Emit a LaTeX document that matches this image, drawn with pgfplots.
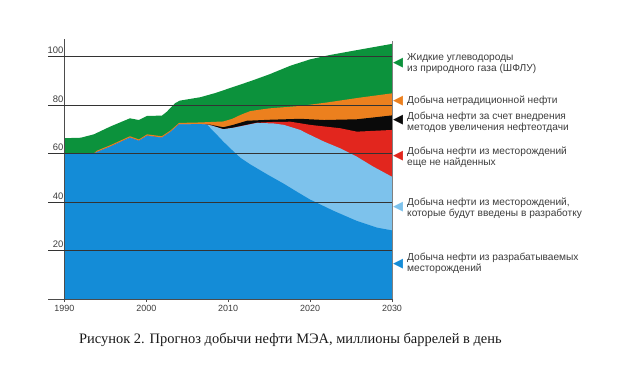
\documentclass[border=0pt]{standalone}
\usepackage{fontspec}
\setmainfont{Liberation Sans}
\newfontfamily\serifcap{Liberation Serif}
\newfontfamily\dejavu{DejaVu Sans}
\usepackage{pgfplots}
\pgfplotsset{compat=1.18}
\definecolor{cgreen}{RGB}{12,146,60}
\definecolor{corange}{RGB}{236,128,30}
\definecolor{cblack}{RGB}{10,10,10}
\definecolor{cred}{RGB}{226,38,30}
\definecolor{clight}{RGB}{125,194,236}
\definecolor{cdark}{RGB}{20,140,215}
\definecolor{ctext}{RGB}{60,60,60}

\pgfplotstableread{
x y
1990 66.3
1992 66.5
1993.6 67.9
1995.6 71.1
1998 74.5
1999.1 73.8
2000.1 75.5
2001.9 75.6
2002.5 77.2
2003.5 80.7
2004.1 81.8
2006.6 83.2
2008.5 85.0
2010.5 87.3
2012.7 89.8
2015 92.6
2017.6 96.2
2020 98.8
2022.4 100.6
2026 102.8
2030 105.2
}\ngl

\pgfplotstableread{
x y
1990 60.0
1993.6 60.1
1994 61.2
1995.6 63.4
1998 67.1
1999.1 65.8
2000.1 67.9
2001.9 67.1
2003 69.6
2004 72.6
2006.6 72.8
2009.4 73.2
2010.5 74.3
2011.5 75.9
2012.7 77.5
2015 78.6
2018.8 79.6
2022 81.0
2026 83.0
2030 84.8
}\unconv

\pgfplotstableread{
x y
1990 60.0
1993.6 60.0
1994 60.6
1995.6 62.8
1998 66.5
1999.1 65.2
2000.1 67.3
2001.9 66.5
2003 69.0
2004 72.0
2006.6 72.1
2007.8 71.9
2009.4 70.8
2010.6 71.8
2012.3 73.5
2015 73.9
2018.8 74.3
2021.7 73.8
2025.7 74.1
2030 75.7
}\eor

\pgfplotstableread{
x y
1990 60.0
1993.6 60.0
1994 60.6
1995.6 62.8
1998 66.5
1999.1 65.2
2000.1 67.3
2001.9 66.5
2003 69.0
2004 72.0
2006.6 72.1
2007.4 71.9
2008 71.5
2009.4 70.0
2010.6 70.6
2011.5 71.3
2013.5 72.7
2015.5 73.0
2017.6 73.1
2020 71.8
2023.7 70.4
2025.7 69.0
2030 69.7
}\yetfound

\pgfplotstableread{
x y
1990 60.0
1993.6 60.0
1994 60.6
1995.6 62.8
1998 66.5
1999.1 65.2
2000.1 67.3
2001.9 66.5
2003 69.0
2004 72.0
2006.6 72.1
2007.4 71.9
2008 71.5
2009.4 70.0
2010.6 70.6
2011.5 71.2
2013.5 72.6
2015.5 72.4
2016.8 71.8
2018.8 69.7
2019.6 68.3
2021.7 64.9
2023.7 62.1
2025.7 58.7
2027.7 54.6
2030 50.4
}\newdev

\pgfplotstableread{
x y
1990 60.0
1993.6 60.0
1994 60.6
1995.6 62.8
1998 66.5
1999.1 65.2
2000.1 67.3
2001.9 66.5
2003 69.0
2004 72.0
2006.6 72.1
2007.4 71.9
2008.4 68.5
2009.4 64.9
2010.6 61.0
2011.5 58.2
2012.7 55.5
2014.7 51.5
2016.8 47.5
2018.5 44.0
2020 41.0
2022.9 36.3
2025.7 32.2
2028.2 29.4
2030 28.3
}\existing

\begin{document}
\begin{tikzpicture}[x=1bp,y=1bp]
\useasboundingbox (-48,-65) rectangle (572,299);
\begin{axis}[
  at={(0,0)}, anchor=south west,
  scale only axis, width=344bp, height=259.5bp,
  xmin=1988, xmax=2030, ymin=0, ymax=107,
  axis line style={draw=none},
  axis on top,
  ymajorgrids,
  major grid style={draw=black!80, line width=0.8bp},
  xtick={1990,2000,2010,2020,2030},
  ytick={20,40,60,80,100},
  /pgf/number format/assume math mode=true,
  xticklabel style={font=\fontsize{9}{10}\selectfont, text=ctext},
  yticklabel style={font=\fontsize{9.5}{10}\selectfont, text=ctext, anchor=south east, xshift=22bp, yshift=-1bp},
  xticklabel={\pgfmathprintnumber[1000 sep={}]{\tick}},
  tick align=outside,
  major tick length=3bp,
  xtick style={draw=black!70, line width=0.6bp},
  ytick style={draw=none},
  xtick pos=bottom, ytick pos=left,
  clip=false,
]
\addplot[fill=cgreen, draw=none] table {\ngl} \closedcycle;
\addplot[fill=corange, draw=none] table {\unconv} \closedcycle;
\addplot[fill=cblack, draw=none] table {\eor} \closedcycle;
\addplot[fill=cred, draw=none] table {\yetfound} \closedcycle;
\addplot[fill=clight, draw=none] table {\newdev} \closedcycle;
\addplot[fill=cdark, draw=none] table {\existing} \closedcycle;
\draw[black!70, line width=0.8bp] (axis cs:1988,0) -- (axis cs:2030,0);
\draw[black!70, line width=0.8bp] (axis cs:1990,0) -- (axis cs:1990,107);
\draw[black!50, line width=0.6bp] (axis cs:2030,0) -- (axis cs:2030,106.5);
\end{axis}
\begin{scope}[every node/.style={text=ctext, font=\fontsize{10.2}{11.5}\selectfont, align=left, anchor=west, inner sep=0pt}]
\node at (359,235.5) {Жидкие углеводороды\\из природного газа (ШФЛУ)};
\node at (359,198) {Добыча нетрадиционной нефти};
\node at (359,176.5) {Добыча нефти за счет внедрения\\методов увеличения нефтеотдачи};
\node at (359,141.5) {Добыча нефти из месторождений\\еще не найденных};
\node at (359,90.5) {Добыча нефти из месторождений,\\которые будут введены в разработку};
\node at (359,35.5) {Добыча нефти из разрабатываемых\\месторождений};
\end{scope}
\begin{scope}[every node/.style={font=\dejavu\fontsize{13}{13}\selectfont, inner sep=0pt, anchor=center}]
\node[text=cgreen] at (350,235.7) {◀};
\node[text=corange] at (350,198) {◀};
\node[text=cblack] at (350,179) {◀};
\node[text=cred] at (350,143) {◀};
\node[text=clight] at (350,92) {◀};
\node[text=cdark] at (350,35) {◀};
\end{scope}
\node[anchor=base west, inner sep=0pt, text=black!90, font=\serifcap\fontsize{14.5}{16}\selectfont] at (31,-44) {Рисунок 2. Прогноз добычи нефти МЭА, миллионы баррелей в день};
\end{tikzpicture}
\end{document}
